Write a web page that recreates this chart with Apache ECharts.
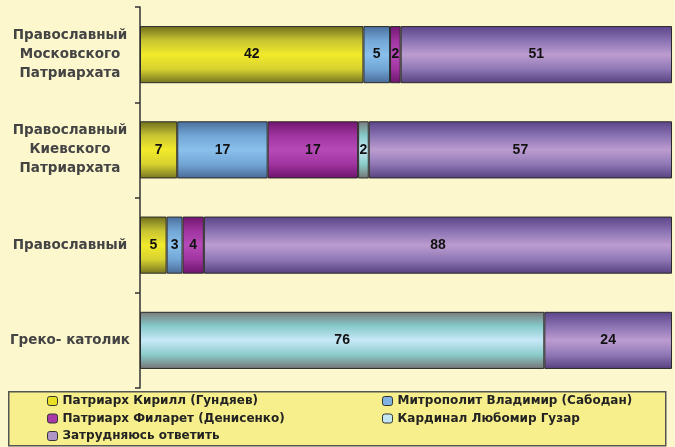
<!DOCTYPE html>
<html>
<head>
<meta charset="utf-8">
<script src="https://cdn.jsdelivr.net/npm/echarts@6/dist/echarts.min.js"></script>
<style>
html,body{margin:0;padding:0;background:#fcf7cd;}
#c{width:675px;height:447px;}
</style>
</head>
<body>
<div id="c"></div>
<script>
var categories = ['Православный\nМосковского\nПатриархата', 'Православный\nКиевского\nПатриархата', 'Православный', 'Греко- католик'];
var seriesNames = ['Патриарх Кирилл (Гундяев)', 'Митрополит Владимир (Сабодан)', 'Патриарх Филарет (Денисенко)', 'Кардинал Любомир Гузар', 'Затрудняюсь ответить'];
var kirill   = [42, 7, 5, 0];
var vladimir = [5, 17, 3, 0];
var filaret  = [2, 17, 4, 0];
var guzar    = [0, 2, 0, 76];
var unsure   = [51, 57, 88, 24];

var values = [kirill, vladimir, filaret, guzar, unsure];
var solid = ['#e8e024', '#7fb2e0', '#a83aa8', '#c4e6f2', '#b096c8'];
var grads = [
  ['#6e6e1e', '#c8c432', '#f2ea2a', '#d8d230', '#747420'],
  ['#4a6e9c', '#72a6d6', '#8ac0ec', '#72a6d6', '#4a6a98'],
  ['#701670', '#a034a0', '#b64ab6', '#a034a0', '#6c146c'],
  ['#7a7a7a', '#86caca', '#c8e8f8', '#8accca', '#747474'],
  ['#5a4488', '#8a72b2', '#bc9cd0', '#9078b6', '#56407e']
];
function grad(g){
  return {type:'linear', x:0, y:0, x2:0, y2:1, colorStops:[
    {offset:0, color:g[0]}, {offset:0.25, color:g[1]}, {offset:0.5, color:g[2]},
    {offset:0.75, color:g[3]}, {offset:1, color:g[4]}]};
}
var series = seriesNames.map(function(n, i){
  return {
    name: n, type: 'bar', stack: 'all', barWidth: '60%',
    data: values[i].map(function(v){ return v === 0 ? '-' : v; }),
    itemStyle: {color: grad(grads[i]), borderColor: '#2a2a2a', borderWidth: 1},
    label: {show: true, position: 'inside', color: '#111', fontFamily: 'Liberation Sans', fontWeight: 'bold', fontSize: 14},
    emphasis: {disabled: true}
  };
});
function legendData(idx){
  return idx.map(function(i){
    return {name: seriesNames[i], itemStyle: {color: solid[i], borderColor: '#333', borderWidth: 1}};
  });
}
var legendText = {fontFamily: 'DejaVu Sans', fontWeight: 'bold', fontSize: 12, color: '#222', lineHeight: 14};
var chart = echarts.init(document.getElementById('c'));
chart.setOption({
  backgroundColor: '#fcf7cd',
  animation: false,
  grid: {left: 140, right: 3, top: 7, bottom: 59},
  xAxis: {type: 'value', min: 0, max: 100, show: false},
  yAxis: {
    type: 'category', inverse: true, data: categories,
    axisLine: {lineStyle: {color: '#333', width: 1.5}},
    axisTick: {show: true, length: 5, lineStyle: {color: '#333', width: 1.5}},
    axisLabel: {margin: 70, fontFamily: 'DejaVu Sans', fontWeight: 'bold', fontSize: 13.5, color: '#444', lineHeight: 19, align: 'center'}
  },
  graphic: [{
    type: 'rect', z: -1, left: 8, top: 391,
    shape: {width: 657, height: 54},
    style: {fill: '#f6ef8c', stroke: '#555', lineWidth: 1.5}
  }],
  legend: [
    {orient: 'vertical', left: 47, top: 394, height: 100, padding: 0, itemWidth: 10, itemHeight: 9, itemGap: 3.5, icon: 'roundRect',
     data: legendData([0, 2, 4]), textStyle: legendText, selectedMode: false},
    {orient: 'vertical', left: 382, top: 394, height: 100, padding: 0, itemWidth: 10, itemHeight: 9, itemGap: 3.5, icon: 'roundRect',
     data: legendData([1, 3]), textStyle: legendText, selectedMode: false}
  ],
  series: series
});
</script>
</body>
</html>
